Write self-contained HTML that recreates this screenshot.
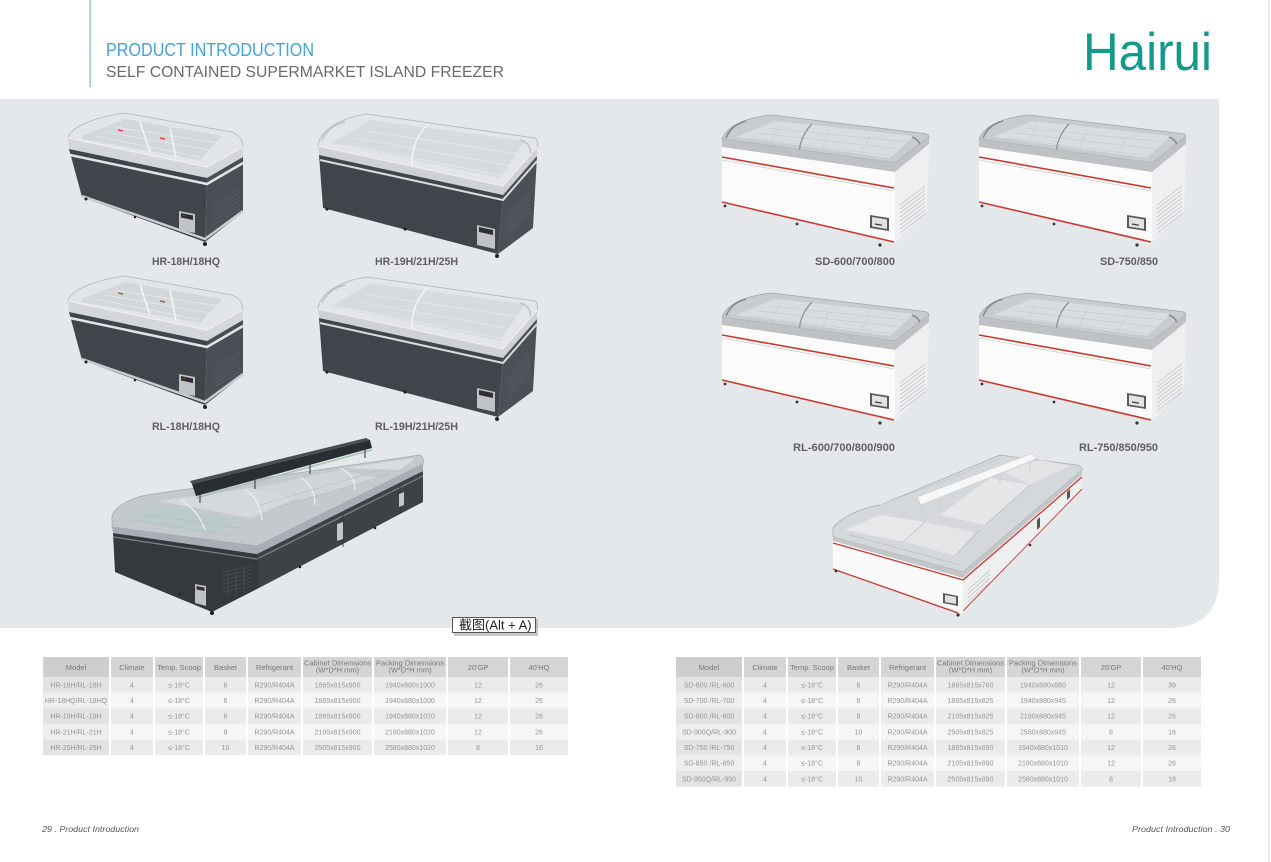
<!DOCTYPE html>
<html><head><meta charset="utf-8"><style>
html,body{margin:0;padding:0;background:#fff;}
body{width:1271px;height:862px;overflow:hidden;position:relative;}
svg{position:absolute;left:0;top:0;}
.h{font-family:"Liberation Sans",sans-serif;font-size:7.5px;fill:#777;text-anchor:middle;}
.d{font-family:"Liberation Sans",sans-serif;font-size:7px;fill:#959595;text-anchor:middle;}
.lb{font-family:"Liberation Sans",sans-serif;font-size:11px;font-weight:bold;fill:#5f5f5f;text-anchor:end;}
</style></head><body>
<svg width="1271" height="862" viewBox="0 0 1271 862" xmlns="http://www.w3.org/2000/svg">
<defs>
<g id="fa">
 <path d="M68,138 C70,126 100,116 125,113 L232,132 C240,135 243,141 243,147 L207,167 Z" fill="#e2e5e8" stroke="#aeb3b8" stroke-width="0.8"/>
 <path d="M82,136 L125,119 L222,136 L200,160 L82,139 Z" fill="#d2d7db"/>
 <path d="M95,136 L200,157 M105,132 L210,150 M115,127 L218,143" stroke="#e9ecee" stroke-width="0.7" fill="none"/>
 <path d="M140,122 L150,152 M170,127 L176,158" stroke="#f5f6f7" stroke-width="1.5" fill="none"/>
 <path d="M118,130 l5,1 M160,138 l5,1" stroke="#d33" stroke-width="1.2"/>
 <path d="M68,138 L207,167 L243,147 L243,157 L207,178 L69,149 Z" fill="#d4d7da"/>
 <path d="M68,138 L207,167 L243,147" fill="none" stroke="#f5f5f5" stroke-width="1"/>
 <path d="M69,149 L207,178 L205,242 L82,197 Z" fill="#40454b"/>
 <path d="M207,178 L243,157 L243,212 L205,242 Z" fill="#4a4f55"/>
 <path d="M70,155 L207,184 L243,163" fill="none" stroke="#e2e3e4" stroke-width="2.5"/>
 <path d="M82,196 L205,239 L243,211" fill="none" stroke="#c9ccd0" stroke-width="2.5"/>
 <path d="M213,205 L240,189 M213,209 L240,193 M213,213 L240,197 M213,217 L240,201 M213,221 L240,205 M213,225 L240,209" stroke="#5c6167" stroke-width="0.7"/>
 <path d="M179,211 L195,214 L195,233 L179,230 Z" fill="#c0c3c6"/>
 <path d="M181,213 L193,215.5 L193,220 L181,217.5 Z" fill="#2e2e2e"/>
 <circle cx="184" cy="215.5" r="0.8" fill="#e33"/>
 <circle cx="86" cy="199" r="1.5" fill="#222"/><circle cx="205" cy="244" r="2" fill="#222"/><circle cx="135" cy="217" r="1.3" fill="#222"/>
</g>
<g id="fb">
 <path d="M318,146 C320,128 345,117 367,114 L535,138 C538,140 538,144 537,147 L503,186 Z" fill="#e3e6e9" stroke="#aeb3b8" stroke-width="0.8"/>
 <path d="M332,143 L370,120 L525,141 L500,178 Z" fill="#d6dbdf"/>
 <path d="M345,145 L505,176 M355,138 L512,166 M365,131 L520,154" stroke="#e8ebed" stroke-width="0.7" fill="none"/>
 <path d="M428,124 C414,138 410,156 413,168" stroke="#f2f3f4" stroke-width="1.6" fill="none"/>
 <path d="M322,140 C326,130 336,124 345,122" stroke="#bfc3c7" stroke-width="1.5" fill="none"/>
 <path d="M520,140 C528,142 532,148 530,158" stroke="#bfc3c7" stroke-width="1.5" fill="none"/>
 <path d="M318,146 L503,186 L537,147 L537,156 L503,195 L319,155 Z" fill="#cfd2d5"/>
 <path d="M318,146 L503,186 L537,147" fill="none" stroke="#f3f3f3" stroke-width="1"/>
 <path d="M319,155 L503,195 L498,254 L323,208 Z" fill="#40454b"/>
 <path d="M503,195 L537,156 L533,228 L498,254 Z" fill="#4b5056"/>
 <path d="M320,160 L503,200 L537,161" fill="none" stroke="#d9dbdd" stroke-width="2"/>
 <path d="M508,215 L530,192 M508,219 L530,196 M508,223 L530,200 M508,227 L530,204 M508,231 L530,208 M508,235 L530,212" stroke="#5d6268" stroke-width="0.7"/>
 <path d="M477,225 L495,229 L495,249 L477,245 Z" fill="#c0c3c6"/>
 <path d="M479,227 L493,230 L493,235 L479,232 Z" fill="#2f2f2f"/>
 <circle cx="327" cy="209" r="1.6" fill="#222"/><circle cx="405" cy="229" r="1.6" fill="#222"/><circle cx="497" cy="256" r="2" fill="#222"/>
</g>
<g id="fc">
 <path d="M722,139 C728,124 750,117 772,115 L920,133 C926,133 929,135 929,137 L895,163 Z" fill="#c8ccd0" stroke="#a0a5a9" stroke-width="0.8"/>
 <path d="M736,137 L775,121 L914,136 L890,158 Z" fill="#dadde0"/>
 <path d="M748,138 L892,156 M758,133 L900,149 M768,128 L908,142 M780,125 L770,145 M830,130 L822,150 M870,136 L860,154" stroke="#c3c7cb" stroke-width="0.6" fill="none"/>
 <path d="M812,124 C802,134 798,148 800,156" stroke="#8f9498" stroke-width="1.3" fill="none"/>
 <path d="M726,138 C730,128 738,123 746,121" stroke="#858a8e" stroke-width="1.6" fill="none"/>
 <path d="M912,137 C920,140 922,146 918,154" stroke="#858a8e" stroke-width="1.6" fill="none"/>
 <path d="M722,139 L895,163 L929,137 L929,144 L895,172 L722,147 Z" fill="#bfc2c5"/>
 <path d="M722,147 L895,172 L895,243 L722,203 Z" fill="#fbfbfb"/>
 <path d="M895,172 L929,144 L927,210 L895,243 Z" fill="#eeeff0"/>
 <path d="M900,205 L925,186 M900,209 L925,190 M900,213 L925,194 M900,217 L925,198 M900,221 L925,202 M900,225 L925,206 M900,229 L925,210 M900,233 L925,214" stroke="#b7babd" stroke-width="0.6"/>
 <path d="M722,157 L894,188" stroke="#c73a32" stroke-width="1.6"/>
 <path d="M722,160 L894,191" stroke="#cdcdcd" stroke-width="0.8"/>
 <path d="M722,202 L894,242" stroke="#c73a32" stroke-width="1.6"/>
 <path d="M870,215 L889,218 L889,231 L870,228 Z" fill="#5a5a5a"/>
 <path d="M872,217 L887,219.5 L887,229 L872,226.5 Z" fill="#e2e2e2"/>
 <path d="M875,224 l7,1.2" stroke="#333" stroke-width="1.2"/>
 <circle cx="725" cy="206" r="1.4" fill="#333"/><circle cx="797" cy="224" r="1.4" fill="#333"/><circle cx="880" cy="245" r="1.6" fill="#333"/>
</g>
</defs>

<!-- header -->
<rect x="89.5" y="0" width="1.4" height="87" fill="#86c1e4"/>
<rect x="1268.5" y="0" width="1" height="862" fill="#d2d2d2"/>
<text x="106" y="56" font-family="Liberation Sans, sans-serif" font-size="18" fill="#45a1d8" textLength="208" lengthAdjust="spacingAndGlyphs">PRODUCT INTRODUCTION</text>
<text x="106" y="77" font-family="Liberation Sans, sans-serif" font-size="16" fill="#6a6a6a" textLength="398" lengthAdjust="spacingAndGlyphs">SELF CONTAINED SUPERMARKET ISLAND FREEZER</text>
<text x="1083" y="70" font-family="Liberation Sans, sans-serif" font-size="53" fill="#14998b" textLength="129" lengthAdjust="spacingAndGlyphs">Hairui</text>

<!-- gray band -->
<path d="M0,99 H1219 V578 Q1219,628 1169,628 H0 Z" fill="#e5e8eb"/>

<!-- dark freezers -->
<use href="#fa"/>
<use href="#fa" transform="translate(0,163)"/>
<use href="#fb"/>
<use href="#fb" transform="translate(0,163)"/>

<!-- white freezers -->
<use href="#fc"/>
<use href="#fc" transform="translate(257,0)"/>
<use href="#fc" transform="translate(0,178)"/>
<use href="#fc" transform="translate(257,178)"/>

<!-- labels -->
<text class="lb" x="220" y="265" textLength="68" lengthAdjust="spacingAndGlyphs">HR-18H/18HQ</text>
<text class="lb" x="458" y="265" textLength="83" lengthAdjust="spacingAndGlyphs">HR-19H/21H/25H</text>
<text class="lb" x="220" y="430" textLength="68" lengthAdjust="spacingAndGlyphs">RL-18H/18HQ</text>
<text class="lb" x="458" y="430" textLength="83" lengthAdjust="spacingAndGlyphs">RL-19H/21H/25H</text>
<text class="lb" x="895" y="265" textLength="80" lengthAdjust="spacingAndGlyphs">SD-600/700/800</text>
<text class="lb" x="1158" y="265" textLength="58" lengthAdjust="spacingAndGlyphs">SD-750/850</text>
<text class="lb" x="895" y="451" textLength="102" lengthAdjust="spacingAndGlyphs">RL-600/700/800/900</text>
<text class="lb" x="1158" y="451" textLength="79" lengthAdjust="spacingAndGlyphs">RL-750/850/950</text>

<!-- big dark island -->
<g>
 <path d="M112,516 C115,505 135,497 147,495 L420,455 C423,457 424,460 423,464 L257,546 L112,527 Z" fill="#c4c9cd" stroke="#9ea4a9" stroke-width="0.7"/>
 <path d="M122,518 L150,503 L240,520 L215,536 Z" fill="#bccbc8"/>
 <path d="M160,501 L250,488 L300,497 L250,518 Z" fill="#d5d9dc"/>
 <path d="M255,488 L340,470 L380,478 L300,500 Z" fill="#cfd5d8"/>
 <path d="M345,468 L415,458 L400,470 Z" fill="#d9dde0"/>
 <path d="M180,500 C190,505 200,515 205,530 M245,490 C255,495 260,505 262,520 M300,478 C310,482 315,492 315,505 M340,468 C350,472 355,480 355,490" stroke="#eef0f2" stroke-width="1.2" fill="none"/>
 <path d="M130,520 L230,535 M140,514 L240,528 M260,505 L380,470 M270,510 L390,474" stroke="#b0b6bb" stroke-width="0.5" fill="none"/>
 <path d="M196,498 L372,450" stroke="#a8c2b4" stroke-width="1.5"/>
 <path d="M190,481 L366,438 L370,440 L192,484 Z" fill="#4a4e53"/>
 <path d="M192,484 L370,440 L372,448 L196,496 Z" fill="#2a2d31"/>
 <path d="M200,494 L200,503 M255,480 L255,489 M310,465 L310,474 M365,450 L365,458" stroke="#2a2d31" stroke-width="1"/>
 <path d="M112,527 L257,546 L423,464 L423,471 L257,554 L113,533 Z" fill="#a8aeb3"/>
 <path d="M113,533 L257,554 L257,589 L212,612 L115,572 Z" fill="#35393e"/>
 <path d="M257,554 L423,471 L423,502 L257,589 Z" fill="#3e4247"/>
 <path d="M113,537 L257,559 L423,476" fill="none" stroke="#7e858b" stroke-width="1.2"/>
 <path d="M258,556 L258,588 M343,514 L343,547 M400,485 L400,513" stroke="#2e3236" stroke-width="0.8"/>
 <path d="M222,572 L252,566 M222,576 L252,570 M222,580 L252,574 M222,584 L252,578 M222,588 L252,582 M222,592 L252,586 M228,570 L228,598 M236,569 L236,596 M244,567 L244,594" stroke="#50555a" stroke-width="0.6"/>
 <path d="M195,584 L206,586 L206,606 L195,603 Z" fill="#bfc3c6"/>
 <path d="M196.5,586 L204.5,587.5 L204.5,591 L196.5,589.5 Z" fill="#333"/>
 <path d="M337,524 L343,522 L343,539 L337,541 Z" fill="#c3c7ca"/>
 <path d="M399,494 L404,492 L404,505 L399,507 Z" fill="#c3c7ca"/>
 <circle cx="212" cy="613" r="2" fill="#1e1e1e"/><circle cx="180" cy="594" r="1.3" fill="#1e1e1e"/><circle cx="300" cy="567" r="1.3" fill="#1e1e1e"/><circle cx="375" cy="528" r="1.3" fill="#1e1e1e"/>
</g>

<!-- big white island -->
<g>
 <path d="M833,528 C840,518 860,508 880,505 L1000,455 L1077,465 C1081,466 1083,468 1082,470 L963,572 L833,537 Z" fill="#d5d8db" stroke="#a7abaf" stroke-width="0.7"/>
 <path d="M845,530 L880,515 L925,522 L905,542 Z" fill="#e6e8ea"/>
 <path d="M905,542 L925,522 L975,532 L955,556 Z" fill="#e3e5e7"/>
 <path d="M940,515 L990,478 L1030,485 L985,525 Z" fill="#e5e7e9"/>
 <path d="M1000,470 L1040,460 L1070,466 L1030,485 Z" fill="#e2e4e6"/>
 <path d="M880,505 L960,475 L1000,458" stroke="#c8ccd0" stroke-width="1" fill="none"/>
 <path d="M903,542 L925,522 M955,556 L980,530 M985,525 L1030,485 M850,535 L960,565" stroke="#b9bdc1" stroke-width="0.7" fill="none"/>
 <path d="M917,497 L1033,453 L1036,459 L921,505 Z" fill="#f7f7f7" stroke="#c5c8cb" stroke-width="0.6"/>
 <path d="M921,505 L921,518 M940,498 L940,511 M1000,475 L1000,484 M1030,462 L1030,470" stroke="#d0d3d6" stroke-width="1.2"/>
 <path d="M833,537 L963,572 L1082,470 L1082,475 L963,578 L833,541 Z" fill="#c3c6c9"/>
 <path d="M833,541 L963,578 L963,613 L833,569 Z" fill="#fafafa"/>
 <path d="M963,578 L1082,475 L1082,490 L963,613 Z" fill="#eeeff0"/>
 <path d="M833,543 L963,580 L1082,477" fill="none" stroke="#c73a32" stroke-width="1.3"/>
 <path d="M833,569 L958,613" stroke="#c73a32" stroke-width="1.3"/>
 <path d="M963,611 L1082,489" stroke="#c73a32" stroke-width="0.9"/>
 <path d="M968,590 L990,570 M968,594 L990,574 M968,598 L990,578 M968,602 L990,582" stroke="#b7babd" stroke-width="0.6"/>
 <path d="M943,593 L958,596 L958,606 L943,603 Z" fill="#5a5a5a"/>
 <path d="M945,595 L956,597 L956,604 L945,602 Z" fill="#e0e0e0"/>
 <path d="M1037,520 L1040,517 L1040,527 L1037,530 Z" fill="#555"/>
 <path d="M1067,492 L1070,489 L1070,497 L1067,500 Z" fill="#555"/>
 <circle cx="836" cy="571" r="1.3" fill="#333"/><circle cx="958" cy="615" r="1.6" fill="#333"/><circle cx="1030" cy="545" r="1.3" fill="#333"/>
</g>

<!-- tooltip -->
<rect x="454" y="619" width="84" height="17" fill="#9a9a9a" opacity="0.55"/>
<rect x="452.5" y="617.5" width="83" height="15" fill="#ffffff" stroke="#555" stroke-width="1"/>
<text x="459" y="629.5" font-family="Liberation Sans, Noto Sans CJK SC, sans-serif" font-size="13" fill="#222">截图(Alt + A)</text>

<!-- left table -->
<g id="tl">
 <rect x="43" y="657" width="525" height="20" fill="#d5d5d5"/>
 <rect x="43" y="677" width="525" height="15.67" fill="#ebebeb"/>
 <rect x="43" y="692.67" width="525" height="15.67" fill="#f6f6f6"/>
 <rect x="43" y="708.33" width="525" height="15.67" fill="#ebebeb"/>
 <rect x="43" y="724" width="525" height="15.67" fill="#f6f6f6"/>
 <rect x="43" y="739.67" width="525" height="15.67" fill="#ebebeb"/>
 <rect x="43" y="657" width="66" height="98.33" fill="#000" opacity="0.03"/>
 <g fill="#fff">
  <rect x="109" y="657" width="2" height="99"/><rect x="153" y="657" width="2" height="99"/><rect x="203" y="657" width="2" height="99"/><rect x="246" y="657" width="2" height="99"/><rect x="301" y="657" width="2" height="99"/><rect x="372" y="657" width="2" height="99"/><rect x="446" y="657" width="2" height="99"/><rect x="508" y="657" width="2" height="99"/>
 </g>
 <text class="h" x="76" y="670">Model</text>
 <text class="h" x="132" y="670">Climate</text>
 <text class="h" x="179" y="670">Temp. Scoop</text>
 <text class="h" x="225.5" y="670">Basket</text>
 <text class="h" x="274.5" y="670">Refrigerant</text>
 <text class="h" x="337.5" y="665.5">Cabinet Dimensions</text>
 <text class="h" x="337.5" y="672.5">(W*D*H mm)</text>
 <text class="h" x="410" y="665.5">Packing Dimensions</text>
 <text class="h" x="410" y="672.5">(W*D*H mm)</text>
 <text class="h" x="478" y="670">20'GP</text>
 <text class="h" x="539" y="670">40'HQ</text>
</g>
<g>
 <text class="d" y="687.3"><tspan x="76">HR-18H/RL-18H</tspan><tspan x="132">4</tspan><tspan x="179">≤-18°C</tspan><tspan x="225.5">6</tspan><tspan x="274.5">R290/R404A</tspan><tspan x="337.5">1865x815x900</tspan><tspan x="410">1940x880x1000</tspan><tspan x="478">12</tspan><tspan x="539">26</tspan></text>
 <text class="d" y="703"><tspan x="76">HR-18HQ/RL-18HQ</tspan><tspan x="132">4</tspan><tspan x="179">≤-18°C</tspan><tspan x="225.5">6</tspan><tspan x="274.5">R290/R404A</tspan><tspan x="337.5">1865x815x900</tspan><tspan x="410">1940x880x1000</tspan><tspan x="478">12</tspan><tspan x="539">26</tspan></text>
 <text class="d" y="718.6"><tspan x="76">HR-19H/RL-19H</tspan><tspan x="132">4</tspan><tspan x="179">≤-18°C</tspan><tspan x="225.5">6</tspan><tspan x="274.5">R290/R404A</tspan><tspan x="337.5">1865x815x900</tspan><tspan x="410">1940x880x1020</tspan><tspan x="478">12</tspan><tspan x="539">26</tspan></text>
 <text class="d" y="734.3"><tspan x="76">HR-21H/RL-21H</tspan><tspan x="132">4</tspan><tspan x="179">≤-18°C</tspan><tspan x="225.5">8</tspan><tspan x="274.5">R290/R404A</tspan><tspan x="337.5">2105x815x900</tspan><tspan x="410">2180x880x1020</tspan><tspan x="478">12</tspan><tspan x="539">26</tspan></text>
 <text class="d" y="750"><tspan x="76">HR-25H/RL-25H</tspan><tspan x="132">4</tspan><tspan x="179">≤-18°C</tspan><tspan x="225.5">10</tspan><tspan x="274.5">R290/R404A</tspan><tspan x="337.5">2505x815x900</tspan><tspan x="410">2580x880x1020</tspan><tspan x="478">8</tspan><tspan x="539">16</tspan></text>
</g>

<!-- right table -->
<g transform="translate(633,0)">
 <rect x="43" y="657" width="525" height="20" fill="#d5d5d5"/>
 <rect x="43" y="677" width="525" height="15.67" fill="#ebebeb"/>
 <rect x="43" y="692.67" width="525" height="15.67" fill="#f6f6f6"/>
 <rect x="43" y="708.33" width="525" height="15.67" fill="#ebebeb"/>
 <rect x="43" y="724" width="525" height="15.67" fill="#f6f6f6"/>
 <rect x="43" y="739.67" width="525" height="15.67" fill="#ebebeb"/>
 <rect x="43" y="755.33" width="525" height="15.67" fill="#f6f6f6"/>
 <rect x="43" y="771" width="525" height="15.67" fill="#ebebeb"/>
 <rect x="43" y="657" width="66" height="129.67" fill="#000" opacity="0.03"/>
 <g fill="#fff">
  <rect x="109" y="657" width="2" height="130"/><rect x="153" y="657" width="2" height="130"/><rect x="203" y="657" width="2" height="130"/><rect x="246" y="657" width="2" height="130"/><rect x="301" y="657" width="2" height="130"/><rect x="372" y="657" width="2" height="130"/><rect x="446" y="657" width="2" height="130"/><rect x="508" y="657" width="2" height="130"/>
 </g>
 <text class="h" x="76" y="670">Model</text>
 <text class="h" x="132" y="670">Climate</text>
 <text class="h" x="179" y="670">Temp. Scoop</text>
 <text class="h" x="225.5" y="670">Basket</text>
 <text class="h" x="274.5" y="670">Refrigerant</text>
 <text class="h" x="337.5" y="665.5">Cabinet Dimensions</text>
 <text class="h" x="337.5" y="672.5">(W*D*H mm)</text>
 <text class="h" x="410" y="665.5">Packing Dimensions</text>
 <text class="h" x="410" y="672.5">(W*D*H mm)</text>
 <text class="h" x="478" y="670">20'GP</text>
 <text class="h" x="539" y="670">40'HQ</text>
 <text class="d" y="687.3"><tspan x="76">SD-600 /RL-600</tspan><tspan x="132">4</tspan><tspan x="179">≤-18°C</tspan><tspan x="225.5">6</tspan><tspan x="274.5">R290/R404A</tspan><tspan x="337.5">1865x815x760</tspan><tspan x="410">1940x880x880</tspan><tspan x="478">12</tspan><tspan x="539">39</tspan></text>
 <text class="d" y="703"><tspan x="76">SD-700 /RL-700</tspan><tspan x="132">4</tspan><tspan x="179">≤-18°C</tspan><tspan x="225.5">6</tspan><tspan x="274.5">R290/R404A</tspan><tspan x="337.5">1865x815x825</tspan><tspan x="410">1940x880x945</tspan><tspan x="478">12</tspan><tspan x="539">26</tspan></text>
 <text class="d" y="718.6"><tspan x="76">SD-800 /RL-800</tspan><tspan x="132">4</tspan><tspan x="179">≤-18°C</tspan><tspan x="225.5">8</tspan><tspan x="274.5">R290/R404A</tspan><tspan x="337.5">2105x815x825</tspan><tspan x="410">2180x880x945</tspan><tspan x="478">12</tspan><tspan x="539">26</tspan></text>
 <text class="d" y="734.3"><tspan x="76">SD-900Q/RL-900</tspan><tspan x="132">4</tspan><tspan x="179">≤-18°C</tspan><tspan x="225.5">10</tspan><tspan x="274.5">R290/R404A</tspan><tspan x="337.5">2505x815x825</tspan><tspan x="410">2580x880x945</tspan><tspan x="478">8</tspan><tspan x="539">16</tspan></text>
 <text class="d" y="750"><tspan x="76">SD-750 /RL-750</tspan><tspan x="132">4</tspan><tspan x="179">≤-18°C</tspan><tspan x="225.5">6</tspan><tspan x="274.5">R290/R404A</tspan><tspan x="337.5">1865x815x890</tspan><tspan x="410">1940x880x1010</tspan><tspan x="478">12</tspan><tspan x="539">26</tspan></text>
 <text class="d" y="765.6"><tspan x="76">SD-850 /RL-850</tspan><tspan x="132">4</tspan><tspan x="179">≤-18°C</tspan><tspan x="225.5">8</tspan><tspan x="274.5">R290/R404A</tspan><tspan x="337.5">2105x815x890</tspan><tspan x="410">2180x880x1010</tspan><tspan x="478">12</tspan><tspan x="539">26</tspan></text>
 <text class="d" y="781.3"><tspan x="76">SD-950Q/RL-950</tspan><tspan x="132">4</tspan><tspan x="179">≤-18°C</tspan><tspan x="225.5">10</tspan><tspan x="274.5">R290/R404A</tspan><tspan x="337.5">2505x815x890</tspan><tspan x="410">2580x880x1010</tspan><tspan x="478">8</tspan><tspan x="539">16</tspan></text>
</g>

<!-- footer -->
<text x="42" y="832" font-family="Liberation Sans, sans-serif" font-size="8" font-style="italic" fill="#555" textLength="97" lengthAdjust="spacingAndGlyphs">29 . Product Introduction</text>
<text x="1230" y="832" font-family="Liberation Sans, sans-serif" font-size="8" font-style="italic" fill="#555" text-anchor="end" textLength="98" lengthAdjust="spacingAndGlyphs">Product Introduction . 30</text>
</svg>
</body></html>
